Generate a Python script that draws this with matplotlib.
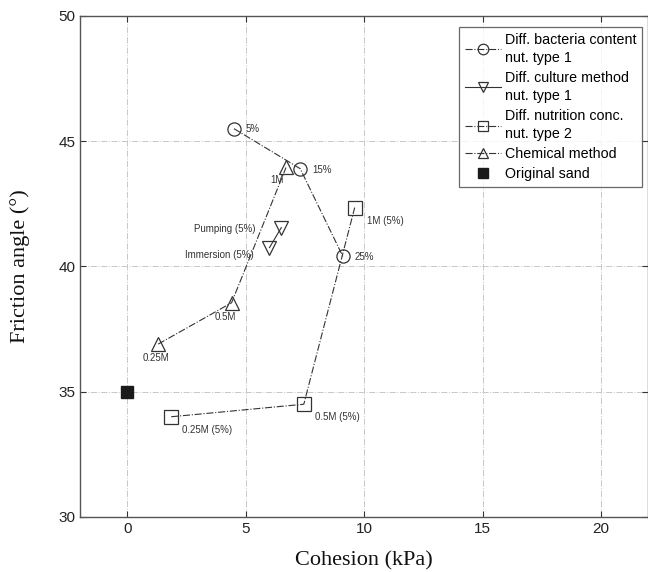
import numpy as np
import matplotlib.pyplot as plt

# cohesion (kPa) and friction angle (deg) for each test group
bact_c = [4.5, 7.3, 9.1]
bact_phi = [45.5, 43.9, 40.4]
bact_lbl = ['5%', '15%', '25%']

cult_c = [6.0, 6.5]
cult_phi = [40.75, 41.55]
cult_lbl = ['Immersion (5%)', 'Pumping (5%)']

nutr_c = [1.85, 7.45, 9.6]
nutr_phi = [34.0, 34.5, 42.35]
nutr_lbl = ['0.25M (5%)', '0.5M (5%)', '1M (5%)']

chem_c = [1.3, 4.4, 6.7]
chem_phi = [36.9, 38.55, 43.95]
chem_lbl = ['0.25M', '0.5M', '1M']

sand_c = [0.0]
sand_phi = [35.0]

col = '#333333'
sans = ['Liberation Sans', 'DejaVu Sans']
serif = ['Liberation Serif', 'DejaVu Serif']

fig = plt.figure(figsize=(6.48, 5.72), dpi=100)
ax = fig.add_axes([0.1235, 0.0962, 0.877, 0.876])

mk = dict(markersize=9.5, markerfacecolor='none', markeredgecolor=col,
          markeredgewidth=0.9, color=col, linewidth=0.8)
ax.plot(bact_c, bact_phi, '-.', marker='o', label='Diff. bacteria content\nnut. type 1', **mk)
ax.plot(cult_c, cult_phi, '-', marker='v', label='Diff. culture method\nnut. type 1', **mk)
ax.plot(nutr_c, nutr_phi, '-.', marker='s', label='Diff. nutrition conc.\nnut. type 2', **mk)
ax.plot(chem_c, chem_phi, '-.', marker='^', label='Chemical method', **mk)
ax.plot(sand_c, sand_phi, 's', markersize=9, color='#1a1a1a', label='Original sand')

# point labels (offsets in points)
def tag(xs, ys, labels, offsets, ha='left'):
    for x, y, t, off in zip(xs, ys, labels, offsets):
        ax.annotate(t, (x, y), xytext=off, textcoords='offset points',
                    fontsize=7, family=sans, color=col, ha=ha, va='center')

tag(bact_c, bact_phi, bact_lbl, [(8.5, 0), (9, -1), (8.5, -0.7)])
tag(cult_c, cult_phi, cult_lbl, [(-11, -5), (-18.5, -1)], ha='right')
tag(nutr_c, nutr_phi, nutr_lbl, [(8, -9.5), (8, -9.5), (9, -10)])
tag(chem_c, chem_phi, chem_lbl, [(-11.5, -10), (-12, -10), (-11, -9)])

ax.set_xlim(-2, 22)
ax.set_ylim(30, 50)
ax.set_xticks([0, 5, 10, 15, 20])
ax.set_yticks([30, 35, 40, 45, 50])
ax.grid(True, linestyle='-.', color='#c8c8c8', linewidth=0.7)
ax.tick_params(direction='in', top=True, right=True, length=4,
               color=col, labelsize=11, labelcolor='#222222')
for lab in ax.get_xticklabels() + ax.get_yticklabels():
    lab.set_family(sans)
for s in ax.spines.values():
    s.set_color('#555555')
    s.set_linewidth(1.0)

ax.set_xlabel('Cohesion (kPa)', family=serif, fontsize=16, color='#111111', labelpad=11)
ax.set_ylabel('Friction angle (°)', family=serif, fontsize=16, color='#111111', labelpad=20)

leg = ax.legend(loc='upper left', bbox_to_anchor=(0.667, 0.978), prop={'family': sans, 'size': 10.3},
                frameon=True, fancybox=False, handlelength=2.5, handletextpad=0.3,
                borderpad=0.4, labelspacing=0.42, borderaxespad=0, markerscale=0.8)
for t in leg.get_texts():
    t.set_linespacing(1.38)
leg.get_frame().set_edgecolor('#444444')
leg.get_frame().set_linewidth(0.9)

fig.savefig('out.png', dpi=100)
